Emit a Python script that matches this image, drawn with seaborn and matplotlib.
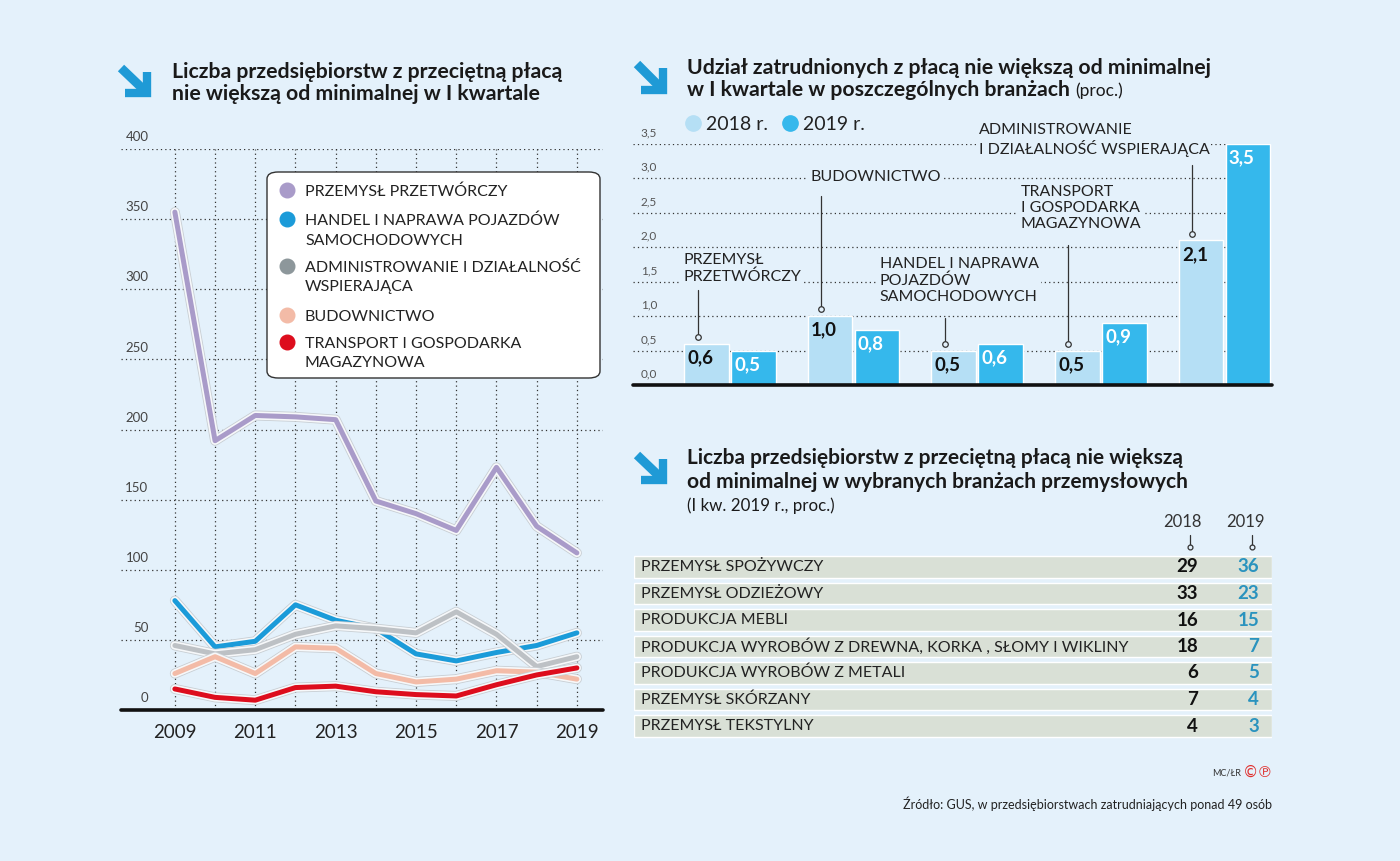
import numpy as np
import pandas as pd
import matplotlib.pyplot as plt
import seaborn as sns
from matplotlib import patheffects as pe
from matplotlib.lines import Line2D
from matplotlib.patches import FancyBboxPatch

# --- dane: wykres liniowy (liczba przedsiebiorstw, I kwartal) ---
years = list(range(2009, 2020))
przetworczy = [355, 192, 210, 209, 207, 149, 140, 128, 173, 131, 112]
handel = [78, 45, 49, 75, 64, 58, 40, 35, 41, 46, 55]
administrowanie = [46, 40, 43, 54, 60, 58, 55, 70, 54, 31, 38]
budownictwo = [26, 38, 26, 45, 44, 26, 20, 22, 28, 27, 22]
transport = [15, 9, 7, 16, 17, 13, 11, 10, 18, 25, 30]
series_names = ['PRZEMYSŁ PRZETWÓRCZY',
                'HANDEL I NAPRAWA POJAZDÓW\nSAMOCHODOWYCH',
                'ADMINISTROWANIE I DZIAŁALNOŚĆ\nWSPIERAJĄCA',
                'BUDOWNICTWO',
                'TRANSPORT I GOSPODARKA\nMAGAZYNOWA']
line_ticks = [0, 50, 100, 150, 200, 250, 300, 350, 400]

# --- dane: udzial zatrudnionych (proc.) ---
branze = ['PRZEMYSŁ\nPRZETWÓRCZY', 'BUDOWNICTWO',
          'HANDEL I NAPRAWA\nPOJAZDÓW\nSAMOCHODOWYCH',
          'TRANSPORT\nI GOSPODARKA\nMAGAZYNOWA',
          'ADMINISTROWANIE\nI DZIAŁALNOŚĆ WSPIERAJĄCA']
udzial_2018 = [0.6, 1.0, 0.5, 0.5, 2.1]
udzial_2019 = [0.5, 0.8, 0.6, 0.9, 3.5]
bar_ticks = [0.0, 0.5, 1.0, 1.5, 2.0, 2.5, 3.0, 3.5]

# --- dane: tabela branz przemyslowych ---
tab_branze = ['PRZEMYSŁ SPOŻYWCZY', 'PRZEMYSŁ ODZIEŻOWY', 'PRODUKCJA MEBLI',
              'PRODUKCJA WYROBÓW Z DREWNA, KORKA , SŁOMY I WIKLINY',
              'PRODUKCJA WYROBÓW Z METALI', 'PRZEMYSŁ SKÓRZANY', 'PRZEMYSŁ TEKSTYLNY']
tab_2018 = [29, 33, 16, 18, 6, 7, 4]
tab_2019 = [36, 23, 15, 7, 5, 4, 3]

BG = '#e4f1fb'
line_colors = ['#a99bc9', '#1b9bd9', '#bdc1c5', '#f3bba7', '#dd0d1d']
legend_colors = ['#a99bc9', '#1b9bd9', '#8d979b', '#f3bba7', '#dd0d1d']
LIGHT, DARK = '#b5dff5', '#35b8ec'
ARROW = '#1f9ad6'
GRID = dict(color='#333333', linestyle=(0, (1, 2.5)), linewidth=0.9)
CAT_FS = 11.5

sns.set_style('white')
plt.rcParams['font.family'] = ['Lato', 'DejaVu Sans']
plt.rcParams['text.color'] = '#1a1a1a'

W, H = 1400, 861
fig = plt.figure(figsize=(14, 8.61), dpi=100, facecolor=BG)


def fx(px):
    return px / W


def fy(py):
    return 1 - py / H


def rect(l, t, r, b):
    return [fx(l), fy(b), (r - l) / W, (b - t) / H]


def text_lines(x, baselines, text, **kw):
    # kazda linia osobno, zeby trzymac pozycje linii bazowych
    out = None
    for b, s in zip(baselines, text.split('\n')):
        out = fig.text(fx(x), fy(b), s, va='baseline', **kw)
    return out


def arrow_icon(x0, y0, x1, y1):
    fig.add_artist(Line2D([fx(x0 + 3), fx(x1 - 8)], [fy(y0 + 3), fy(y1 - 8)],
                          color=ARROW, lw=6.5, solid_capstyle='butt'))
    fig.add_artist(Line2D([fx(x1 - 4), fx(x1 - 4), fx(x0 + 7)],
                          [fy(y0 + 7), fy(y1 - 4), fy(y1 - 4)],
                          color=ARROW, lw=6, solid_joinstyle='miter', solid_capstyle='butt'))


# ================= wykres liniowy =================
ax1 = fig.add_axes(rect(121, 149, 603, 710))
ax1.set_facecolor('none')
df_lines = pd.DataFrame({
    'rok': years * 5,
    'liczba': przetworczy + handel + administrowanie + budownictwo + transport,
    'branza': [n for n in series_names for _ in years],
})
sns.lineplot(data=df_lines, x='rok', y='liczba', hue='branza', hue_order=series_names,
             palette=dict(zip(series_names, line_colors)), lw=3.6, legend=False, ax=ax1)
for ln in ax1.lines:
    ln.set_path_effects([pe.Stroke(linewidth=7.2, foreground='#c8ced3'),
                         pe.Stroke(linewidth=6.0, foreground='#f6f8fa'),
                         pe.Normal()])
ax1.set_xlim(2007.66, 2019.65)
ax1.set_ylim(0, 400)
ax1.set_xticks(years)
ax1.set_xticklabels([str(y) if y % 2 == 1 else '' for y in years], fontsize=13.5, color='#222')
ax1.set_yticks(line_ticks)
ax1.set_yticklabels([])
ax1.tick_params(length=0, pad=10)
ax1.grid(True, **GRID)
ax1.set_axisbelow(True)
ax1.set_xlabel('')
ax1.set_ylabel('')
for s in ax1.spines.values():
    s.set_visible(False)
ax1.axhline(0, color='#111', lw=2.6, clip_on=False)
for t in line_ticks:
    ax1.annotate(str(t), xy=(0.057, t), xycoords=('axes fraction', 'data'),
                 xytext=(0, 8.5), textcoords='offset points', ha='right', va='center',
                 fontsize=9.5, color='#444')

# legenda (recznie, biala ramka)
fig.add_artist(FancyBboxPatch((fx(267), fy(378)), (600 - 267) / W, (378 - 172) / H,
                              boxstyle='round,pad=0,rounding_size=0.008',
                              fc='white', ec='#333', lw=1.0, transform=fig.transFigure))
legend_rows = [[190], [219, 239], [266, 285], [315], [342, 361]]
for name, col, ys in zip(series_names, legend_colors, legend_rows):
    fig.add_artist(Line2D([fx(287)], [fy(ys[0])], marker='o', ms=10.5, color=col, mec=col))
    text_lines(305, [y + 6 for y in ys], name, fontsize=CAT_FS, ha='left', color='#222')

# tytul 1
arrow_icon(118, 65, 151, 97)
text_lines(172, [78, 100], 'Liczba przedsiębiorstw z przeciętną płacą\nnie większą od minimalnej w I kwartale',
           fontsize=15.3, fontweight='bold')

# ================= wykres slupkowy =================
ax2 = fig.add_axes(rect(633, 144, 1272, 385))
ax2.set_facecolor('none')
df_bars = pd.DataFrame({
    'branza': branze * 2,
    'udzial': udzial_2018 + udzial_2019,
    'rok': ['2018 r.'] * len(branze) + ['2019 r.'] * len(branze),
})
sns.barplot(data=df_bars, x='branza', y='udzial', hue='rok', order=branze,
            palette=[LIGHT, DARK], width=0.76, gap=0.05, legend=False,
            saturation=1, ax=ax2)
ax2.set_xlim(-0.785, 4.384)
ax2.set_ylim(0, 3.5)
ax2.set_yticks(bar_ticks)
ax2.set_yticklabels([])
ax2.set_xticks([])
ax2.set_xlabel('')
ax2.set_ylabel('')
ax2.tick_params(length=0)
ax2.grid(True, axis='y', **GRID)
ax2.set_axisbelow(True)
for s in ax2.spines.values():
    s.set_visible(False)
ax2.axhline(0, color='#111', lw=2.6, clip_on=False)
for t in bar_ticks:
    ax2.annotate(f'{t:.1f}'.replace('.', ','), xy=(0.012, t), xycoords=('axes fraction', 'data'),
                 xytext=(0, 8), textcoords='offset points', ha='left', va='center',
                 fontsize=8.5, color='#555')

for cont, vals, tcol in zip(ax2.containers, [udzial_2018, udzial_2019], ['#111', 'white']):
    for bar, v in zip(cont, vals):
        ax2.annotate(f'{v:.1f}'.replace('.', ','), xy=(bar.get_x(), bar.get_height()),
                     xytext=(2.2, -4), textcoords='offset points', ha='left', va='top',
                     fontsize=13.5, fontweight='bold', color=tcol)

# podpisy branz z liniami odniesienia
label_dx = [-0.38, -0.35, -0.79, -0.65, -1.99]
label_top = [1.92, 3.12, 1.86, 2.91, 3.80]
line_top = [1.38, 2.74, 0.97, 2.03, 3.19]
for i, (name, bar) in enumerate(zip(branze, ax2.containers[0])):
    bx = bar.get_x() + bar.get_width() * 0.3
    yb = bar.get_height() + 0.1
    ax2.plot([bx, bx], [yb, line_top[i]], color='#333', lw=0.9, clip_on=False)
    ax2.plot([bx], [yb], 'o', ms=4, mfc=BG, mec='#333', mew=0.9, clip_on=False)
    ax2.text(i + label_dx[i], label_top[i], name, ha='left', va='top', fontsize=CAT_FS,
             linespacing=1.22, color='#222',
             bbox=dict(fc=BG, ec='none', pad=1.5))

# legenda lat
for xc, col, lab in [(693, LIGHT, '2018 r.'), (790, DARK, '2019 r.')]:
    fig.add_artist(Line2D([fx(xc)], [fy(123)], marker='o', ms=11, color=col, mec=col))
    fig.text(fx(xc + 13), fy(130), lab, fontsize=14, va='baseline', color='#222')

# tytul 2
arrow_icon(634, 61, 667, 94)
t2 = text_lines(687, [74, 96], 'Udział zatrudnionych z płacą nie większą od minimalnej\n'
                'w I kwartale w poszczególnych branżach', fontsize=15.3, fontweight='bold')
fig.canvas.draw()
bb = t2.get_window_extent(fig.canvas.get_renderer())
fig.text(bb.x1 / fig.bbox.width + fx(5), fy(96), '(proc.)', fontsize=12.5, va='baseline')

# ================= tabela =================
arrow_icon(634, 452, 667, 484)
text_lines(687, [464, 488], 'Liczba przedsiębiorstw z przeciętną płacą nie większą\n'
           'od minimalnej w wybranych branżach przemysłowych', fontsize=15, fontweight='bold')
fig.text(fx(687), fy(511), '(I kw. 2019 r., proc.)', fontsize=12.2, va='baseline')

ax3 = fig.add_axes(rect(634, 553.75, 1272, 739.25))
ax3.set_facecolor('none')
rows = np.arange(len(tab_branze))
ax3.barh(rows, [1] * len(rows), height=0.83, color='#d9e0d6')
ax3.set_xlim(0, 1)
ax3.set_ylim(len(rows) - 0.5, -0.5)
ax3.axis('off')
for i, (name, a, b) in enumerate(zip(tab_branze, tab_2018, tab_2019)):
    ax3.text(0.011, i, name, va='center', ha='left', fontsize=CAT_FS, color='#222')
    ax3.text(0.884, i, str(a), va='center', ha='right', fontsize=13.5, fontweight='bold', color='#111')
    ax3.text(0.980, i, str(b), va='center', ha='right', fontsize=13.5, fontweight='bold', color='#2a93be')
for xh, xl, lab in [(0.859, 0.871, '2018'), (0.959, 0.969, '2019')]:
    ax3.text(xh, -1.70, lab, ha='center', va='center', fontsize=12, color='#333')
    ax3.plot([xl, xl], [-1.21, -0.78], color='#333', lw=0.9, clip_on=False)
    ax3.plot([xl], [-0.75], 'o', ms=3.5, mfc=BG, mec='#333', mew=0.9, clip_on=False)

# stopka
fig.text(fx(1241), fy(775), 'MC/ŁR', fontsize=6.5, ha='right', va='baseline', color='#333')
fig.text(fx(1273), fy(777), '©℗', fontsize=11, ha='right', va='baseline', color='#e0312f',
         family=['DejaVu Sans'])
fig.text(fx(1272), fy(809), 'Źródło: GUS, w przedsiębiorstwach zatrudniających ponad 49 osób',
         fontsize=9, ha='right', va='baseline', color='#222')

fig.savefig('out.png', dpi=100, facecolor=BG)
